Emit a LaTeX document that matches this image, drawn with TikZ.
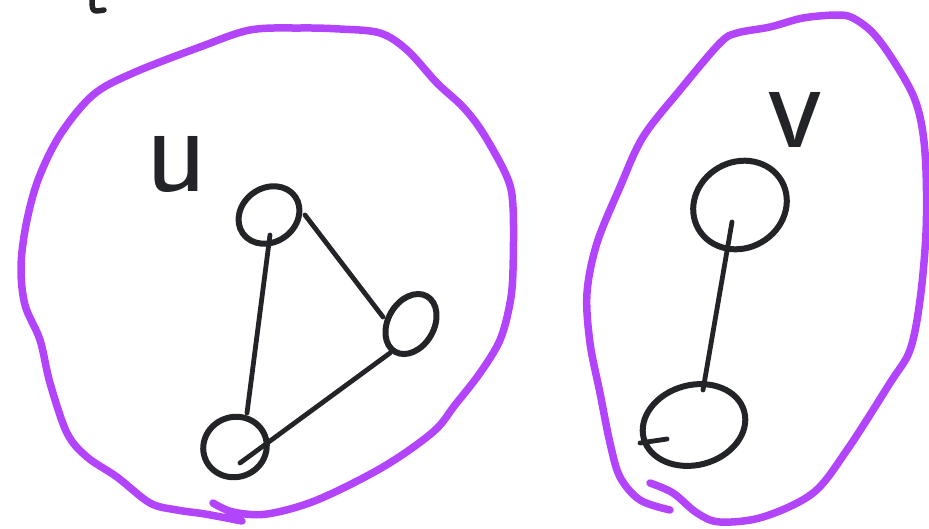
\documentclass[tikz,border=0pt]{standalone}
\usepackage{xcolor}
\usepackage{tikz}
\usetikzlibrary{shapes.geometric}
\definecolor{setpurple}{HTML}{B245FC}
\definecolor{ink}{HTML}{222428}

\begin{document}
\begin{tikzpicture}[
        x=1pt, y=-1pt,
        blob/.style={draw=setpurple, line width=7.5pt, line cap=round, line join=round},
        vert/.style={ellipse, draw=ink, line width=6pt, inner sep=0pt},
        edge/.style={draw=ink, line width=4.8pt, line cap=round},
        lab/.style={font=\fontsize{128}{128}\selectfont\sffamily, text=ink, inner sep=0pt}
    ]
    \useasboundingbox (0,0) rectangle (929,528);

    % =============== stray pen mark, top left ===============
    \draw[edge, line width=5.5pt] (92,-4) .. controls (92,12) .. (104,10);

    % =============== set U ===============
    \draw[blob] plot[smooth, tension=0.55] coordinates {
        (213,503) (233,512) (267,514) (317,500) (383,467) (433,432)
        (455,405) (480,373) (500,340) (510,303) (513,270) (513,207)
        (507,177) (483,133) (463,107) (437,83) (407,50) (380,33)
        (340,29) (300,28) (250,30) (200,47) (133,73) (93,95)
        (60,135) (38,180) (26,225) (21,267) (25,305) (40,340) (50,383)
        (67,433) (87,457) (117,477) (150,503) (177,510) (205,514) (242,521)};

    \node[lab] (ulab) at (176,164) {u};
    \node[vert, minimum width=64pt, minimum height=54pt, rotate=35] (u1) at (269,215) {};
    \node[vert, minimum width=64pt, minimum height=46pt, rotate=60] (u2) at (411,324) {};
    \node[vert, minimum width=64pt, minimum height=60pt, rotate=20] (u3) at (235,447) {};

    \draw[edge] ([shift={(1,20)}]u1.center) -- ([shift={(12,-34)}]u3.center);
    \draw[edge] ([shift={(36,0)}]u1.center) -- ([shift={(-28,-7)}]u2.center);
    \draw[edge] ([shift={(-21,29)}]u2.center) -- ([shift={(5,16)}]u3.center);

    % =============== set V ===============
    \draw[blob] plot[smooth, tension=0.55] coordinates {
        (650,483) (673,493) (697,513) (720,522) (763,517) (813,493)
        (847,450) (890,383) (910,350) (920,300) (926,233) (926,170)
        (922,127) (913,95) (893,60) (873,33) (853,18) (837,15) (803,18)
        (770,27) (737,33) (720,43) (680,90) (643,137) (620,187) (597,243)
        (587,293) (590,343) (600,393) (610,443) (620,477) (640,500) (670,510)};

    \node[lab] (vlab) at (795,120) {v};
    \node[vert, minimum width=96pt, minimum height=86pt, rotate=30] (v1) at (740,205) {};
    \node[vert, minimum width=104pt, minimum height=80pt, rotate=15] (v2) at (694,425) {};

    \draw[edge] ([shift={(-8,17)}]v1.center) -- ([shift={(9,-35)}]v2.center);
    \draw[edge] ([shift={(-54,18)}]v2.center) -- ([shift={(-27,14)}]v2.center);

\end{tikzpicture}
\end{document}
